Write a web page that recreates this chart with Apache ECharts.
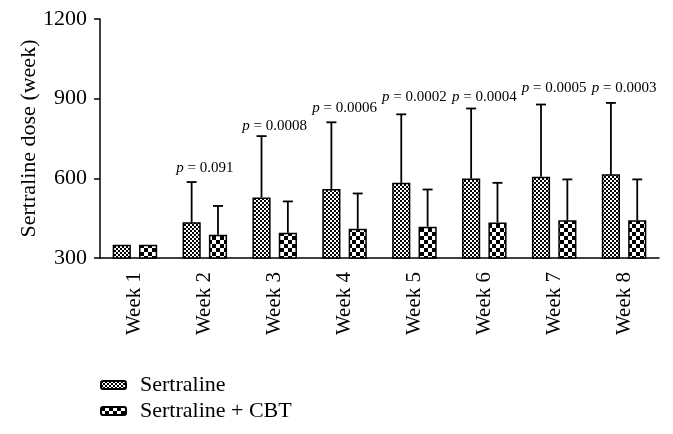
<!DOCTYPE html>
<html><head><meta charset="utf-8">
<script src="https://cdn.jsdelivr.net/npm/echarts@6/dist/echarts.min.js"></script>
<style>html,body{margin:0;padding:0;background:#fff}#c{width:673px;height:434px}</style>
</head><body><div id="c"></div>
<script>
const categories = ['Week 1','Week 2','Week 3','Week 4','Week 5','Week 6','Week 7','Week 8'];
const sertraline = [350, 435, 528, 560, 583, 599, 606, 615];
const sertralineUpper = [null, 586, 759, 811, 841, 863, 878, 884];
const cbt = [350, 388, 395, 410, 418, 434, 442, 442];
const cbtUpper = [null, 496, 513, 543, 558, 583, 596, 596];
const pValues = [null, '0.091', '0.0008', '0.0006', '0.0002', '0.0004', '0.0005', '0.0003'];
const pLabelLevel = [null, 640, 798, 864, 907, 907, 941, 941];
const yMin = 300, yMax = 1200, yStep = 300;

const FONT = 'Liberation Serif';

function checker(cell) {
  const c = document.createElement('canvas');
  c.width = c.height = cell * 2;
  const ctx = c.getContext('2d');
  ctx.fillStyle = '#fff'; ctx.fillRect(0, 0, cell * 2, cell * 2);
  ctx.fillStyle = '#000';
  ctx.fillRect(0, 0, cell, cell);
  ctx.fillRect(cell, cell, cell, cell);
  return c;
}
const fineFill = { image: checker(2), repeat: 'repeat' };
const coarseFill = { image: checker(4), repeat: 'repeat' };

const BAR_FRAC = 0.26, GAP_FRAC = 0.45;
function errRender(side) {
  return function (params, api) {
    const base = api.coord([api.value(0), api.value(1)]);
    const top = api.coord([api.value(0), api.value(2)]);
    const band = api.size([1, 0])[0];
    const bw = band * BAR_FRAC;
    const x = base[0] + side * (bw * (1 + GAP_FRAC)) / 2;
    const cap = 5;
    const st = { stroke: '#000', lineWidth: 1.8 };
    return { type: 'group', children: [
      { type: 'line', shape: { x1: x, y1: base[1], x2: x, y2: top[1] }, style: st },
      { type: 'line', shape: { x1: x - cap, y1: top[1], x2: x + cap, y2: top[1] }, style: st }
    ]};
  };
}
function errData(means, uppers) {
  const out = [];
  means.forEach((m, i) => { if (uppers[i] != null) out.push([i, m, uppers[i]]); });
  return out;
}
const pData = [];
pValues.forEach((p, i) => { if (p != null) pData.push([i, pLabelLevel[i], p]); });

const chart = echarts.init(document.getElementById('c'), null, { renderer: 'canvas' });
chart.setOption({
  animation: false,
  backgroundColor: '#fff',
  textStyle: { fontFamily: FONT, color: '#000' },
  grid: { left: 100, right: 14, top: 19, bottom: 176, containLabel: false },
  legend: {
    data: ['Sertraline', 'Sertraline + CBT'],
    orient: 'vertical', left: 100, top: 374, padding: 0,
    itemWidth: 25, itemHeight: 8, itemGap: 4,
    textStyle: { fontFamily: FONT, fontSize: 22, color: '#000', lineHeight: 21, padding: [0, 0, 0, 9] }
  },
  xAxis: {
    type: 'category', data: categories,
    axisLine: { lineStyle: { color: '#000', width: 1.5 } },
    axisTick: { alignWithLabel: true, length: 7, lineStyle: { color: '#000', width: 1.5 } },
    axisLabel: { rotate: 90, margin: 14, fontFamily: FONT, fontSize: 21, color: '#000' },
    splitLine: { show: false }
  },
  yAxis: {
    type: 'value', min: yMin, max: yMax, interval: yStep,
    name: 'Sertraline dose (week)', nameLocation: 'middle', nameGap: 60, nameMoveOverlap: false,
    nameTextStyle: { fontFamily: FONT, fontSize: 22, color: '#000' },
    axisLine: { show: true, lineStyle: { color: '#000', width: 1.5 } },
    axisTick: { show: true, length: 6, lineStyle: { color: '#000', width: 1.5 } },
    axisLabel: { margin: 13, fontFamily: FONT, fontSize: 22, color: '#000', formatter: v => String(v) },
    splitLine: { show: false }
  },
  series: [
    { name: 'Sertraline', type: 'bar', data: sertraline, barWidth: (BAR_FRAC * 100) + '%', barGap: (GAP_FRAC * 100) + '%',
      itemStyle: { color: fineFill, borderColor: '#000', borderWidth: 1.5 } },
    { name: 'Sertraline + CBT', type: 'bar', data: cbt, barWidth: (BAR_FRAC * 100) + '%', barGap: (GAP_FRAC * 100) + '%',
      itemStyle: { color: coarseFill, borderColor: '#000', borderWidth: 1.5 } },
    { type: 'custom', data: errData(sertraline, sertralineUpper), renderItem: errRender(-1), z: 3 },
    { type: 'custom', data: errData(cbt, cbtUpper), renderItem: errRender(1), z: 3 },
    { type: 'custom', data: pData, z: 4,
      renderItem: function (params, api) {
        const pt = api.coord([api.value(0), api.value(1)]);
        return { type: 'text', x: pt[0], y: pt[1], style: {
          text: '{i|p} = ' + pData[params.dataIndex][2],
          rich: { i: { fontStyle: 'italic', fontFamily: FONT, fontSize: 15, fill: '#000' } },
          fontFamily: FONT, fontSize: 15, fill: '#000', align: 'center', verticalAlign: 'middle'
        }};
      } }
  ]
});
</script></body></html>
